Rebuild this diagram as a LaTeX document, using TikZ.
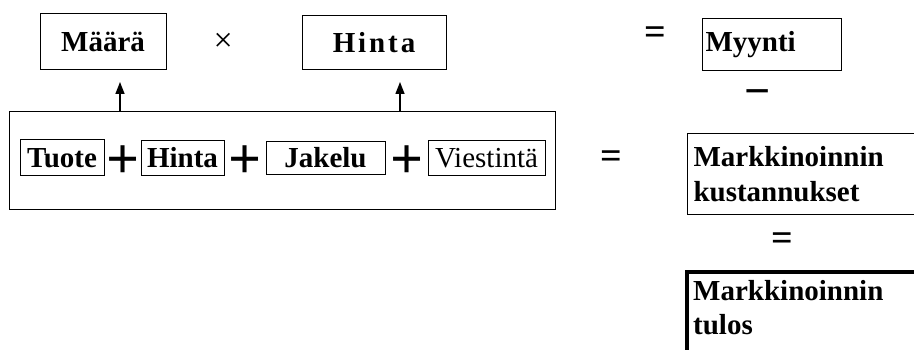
\documentclass[tikz,border=0pt]{standalone}
\usepackage{fontspec}
\setmainfont{Liberation Serif}
\usetikzlibrary{arrows.meta, positioning}

\tikzset{
  ruutu/.style={draw, line width=1pt, inner sep=0pt, font=\fontsize{29}{32}\selectfont\bfseries},
  merkki/.style={inner sep=0pt, yshift=-4pt, font=\fontsize{58}{58}\selectfont\bfseries},
  yhtsuuri/.style={inner sep=0pt, font=\fontsize{38}{38}\selectfont\bfseries},
  nuoli/.style={-{Triangle[width=9pt,length=12pt]}, line width=1.4pt},
  laatikko/.style={draw, line width=1pt, align=left, anchor=north west, inner xsep=6pt,
    inner ysep=13pt, text width=250pt, font=\fontsize{29}{35}\selectfont\bfseries},
}

\begin{document}
\begin{tikzpicture}[x=1pt, y=-1pt]
\useasboundingbox (0,0) rectangle (914,350);
\clip (0,0) rectangle (914,350);
\fill[white] (0,0) rectangle (914,350);

\node[ruutu, minimum width=126pt, minimum height=56pt] (M) at (103,42) {Määrä};
\node[inner sep=0pt, font=\fontsize{34}{34}\selectfont, right=47pt of M] (X) {×};
\node[ruutu, minimum width=144pt, minimum height=54pt] (H) at (374,43)
  {\addfontfeatures{LetterSpace=10}Hinta};
\node[yhtsuuri] (E1) at (655,36) {=};
\node[ruutu, minimum width=139pt, minimum height=52pt, align=left, text width=133pt] (MY) at (772,45) {Myynti};
\node[inner sep=0pt, font=\fontsize{46}{46}\selectfont\bfseries] (MIINUS) at (758,98) {−};

\node[draw, line width=1pt, minimum width=546pt, minimum height=98pt] (MIX) at (282,161) {};
\node[ruutu, minimum width=84pt, minimum height=36pt] (T) at (62,158) {Tuote};
\node[merkki, minimum width=36pt, right=0pt of T] (P1) {+};
\node[ruutu, minimum width=83pt, minimum height=35pt, right=0pt of T, xshift=36pt] (H2) {Hinta};
\node[merkki, minimum width=41pt, right=0pt of H2] (P2) {+};
\node[ruutu, minimum width=119pt, minimum height=33pt, right=0pt of H2, xshift=41pt] (J) {Jakelu};
\node[merkki, minimum width=42pt, right=0pt of J] (P3) {+};
\node[ruutu, font=\fontsize{29}{32}\selectfont, minimum width=117pt, minimum height=35pt,
  right=0pt of J, xshift=42pt] (V) {Viestintä};
\node[yhtsuuri] (E2) at (611,160) {=};

\node[laatikko] (MK) at (687,133) {Markkinoinnin\\kustannukset};
\node[yhtsuuri] (E3) at (782,242) {=};

\node[draw, line width=4pt, minimum width=300pt, minimum height=150pt, anchor=north west] (MTR) at (685,270) {};
\node[align=left, anchor=north west, inner xsep=8pt, inner ysep=10pt, text width=250pt,
  font=\fontsize{29}{34}\selectfont\bfseries] (MT) at (MTR.north west) {Markkinoinnin\\tulos};

\coordinate (A1) at (120,82);
\coordinate (A2) at (400,82);
\draw[nuoli] (MIX.north -| A1) -- (A1);
\draw[nuoli] (MIX.north -| A2) -- (A2);
\end{tikzpicture}
\end{document}
